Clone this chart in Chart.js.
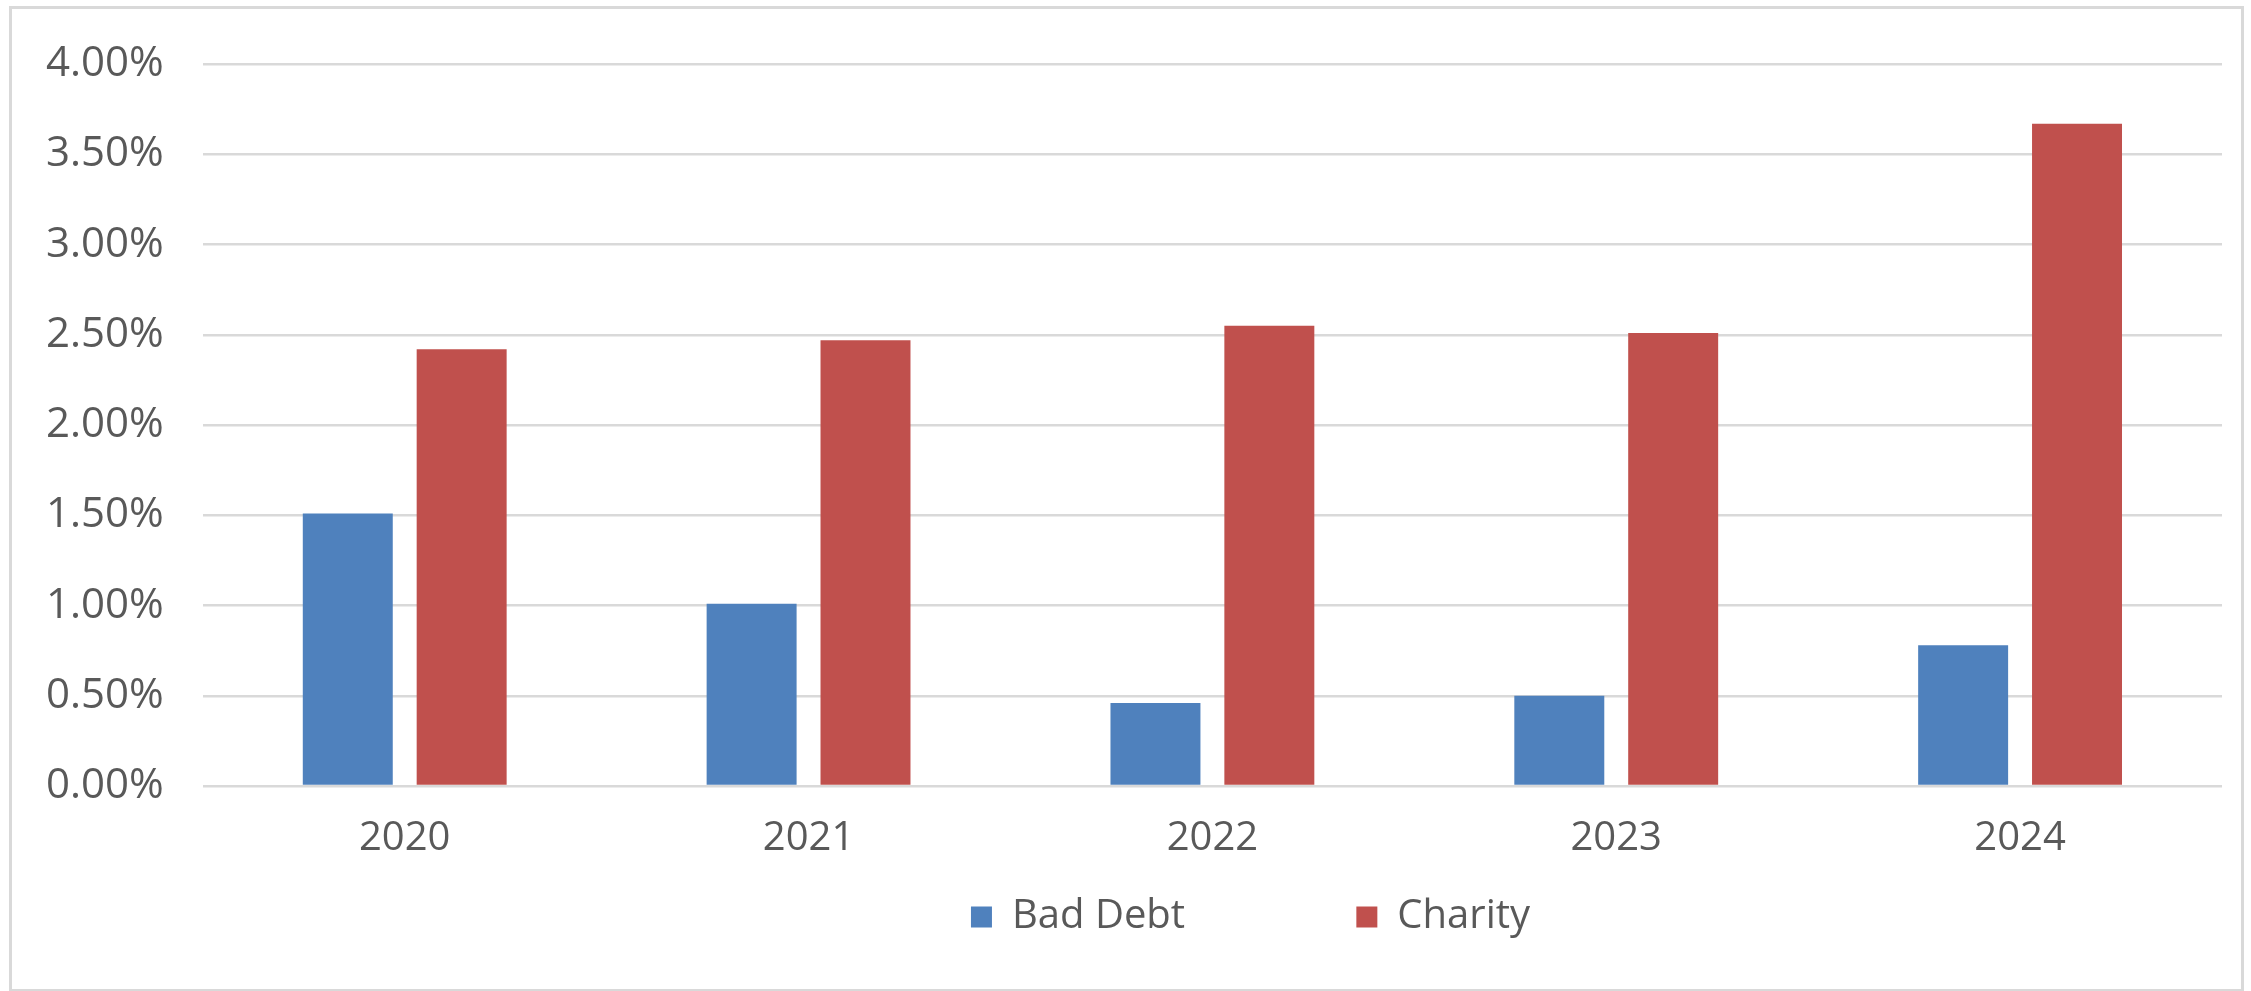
<!DOCTYPE html>
<html>
<head>
<meta charset="utf-8">
<script src="https://cdn.jsdelivr.net/npm/chart.js@4"></script>
<style>
  html, body { margin: 0; padding: 0; background: #ffffff; }
  #wrap { position: absolute; left: 0; top: 0; width: 2251px; height: 991px; }
  #frame { position: absolute; left: 9px; top: 6px; width: 2229px; height: 980px; border: 3px solid #d9d9d9; pointer-events: none; }
</style>
</head>
<body>
<div id="wrap"><canvas id="c" width="2251" height="991"></canvas></div>
<div id="frame"></div>
<script>
const categories = ['2020', '2021', '2022', '2023', '2024'];
const badDebt = [1.51, 1.01, 0.46, 0.50, 0.78];
const charity = [2.42, 2.47, 2.55, 2.51, 3.67];
const seriesNames = ['Bad Debt', 'Charity'];
const yTickStep = 0.5;
const yMax = 4.0;

const textColor = '#595959';
const fontFamily = '"Open Sans", sans-serif';

const legendShift = {
  id: 'legendShift',
  afterLayout(chart) {
    const lg = chart.legend;
    if (lg) { lg.left += 136; lg.right += 136; }
  }
};

new Chart(document.getElementById('c'), {
  type: 'bar',
  data: {
    labels: categories,
    datasets: [
      { label: seriesNames[0], data: badDebt, backgroundColor: '#4F81BD', borderWidth: 0 },
      { label: seriesNames[1], data: charity, backgroundColor: '#C0504D', borderWidth: 0 }
    ]
  },
  plugins: [legendShift],
  options: {
    responsive: false,
    animation: false,
    devicePixelRatio: 1,
    layout: { padding: { top: 31, left: 7, right: 29, bottom: 44 } },
    datasets: { bar: { categoryPercentage: 0.564, barPercentage: 0.79 } },
    plugins: {
      tooltip: { enabled: false },
      legend: {
        position: 'bottom',
        labels: {
          color: textColor,
          font: { family: fontFamily, size: 40 },
          boxWidth: 21,
          boxHeight: 21,
          padding: 5,
          generateLabels: function (chart) {
            const items = Chart.defaults.plugins.legend.labels.generateLabels(chart);
            items.forEach(function (it, i) {
              if (i < items.length - 1) it.text = it.text + '\u00a0'.repeat(16);
            });
            return items;
          }
        }
      }
    },
    scales: {
      x: {
        grid: { display: false, drawTicks: false },
        border: { display: false },
        ticks: { color: textColor, font: { family: fontFamily, size: 40 }, padding: 29 }
      },
      y: {
        min: 0,
        max: yMax,
        grid: { color: '#d9d9d9', lineWidth: 2.5, drawTicks: false },
        border: { display: false },
        ticks: {
          stepSize: yTickStep,
          color: textColor,
          font: { family: fontFamily, size: 42 },
          padding: 39,
          callback: function (v) { return v.toFixed(2) + '%'; }
        }
      }
    }
  }
});
</script>
</body>
</html>
